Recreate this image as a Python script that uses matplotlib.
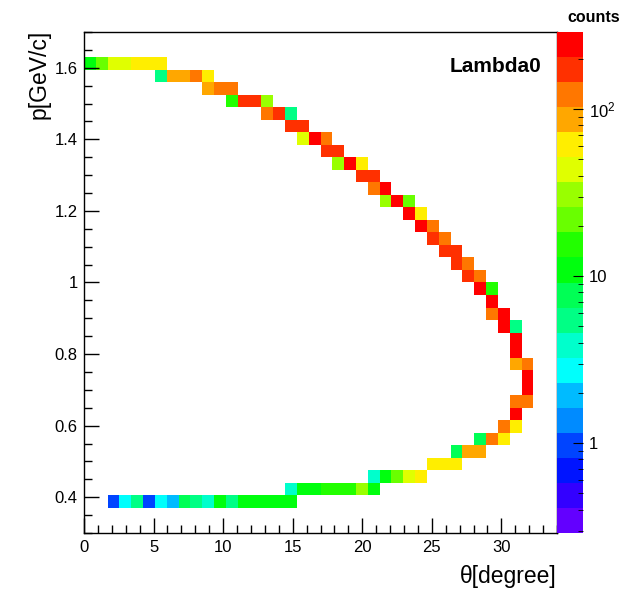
import colorsys
import numpy as np
import matplotlib
matplotlib.use("Agg")
import matplotlib.pyplot as plt
from matplotlib.colors import ListedColormap, LogNorm
from matplotlib.ticker import MultipleLocator, FuncFormatter, FixedLocator, NullFormatter

plt.rcParams['font.family'] = ['Liberation Sans', 'DejaVu Sans']
plt.rcParams['mathtext.fontset'] = 'custom'
plt.rcParams['mathtext.rm'] = 'Liberation Sans'
plt.rcParams['mathtext.default'] = 'regular'

# histogram binning (40 x 40 bins) and colour-scale range
theta_range = (0.0, 34.0)
p_range = (0.3, 1.7)
n_bins = 40
z_range = (0.29, 290.0)

# filled bins: theta [degree], p [GeV/c], counts
theta = [
    0.43, 1.28, 2.13, 2.98, 3.83, 4.68, 5.53,
    5.53, 6.38, 7.23, 8.08, 8.93,
    8.93, 9.78, 10.63,
    10.63, 11.48, 12.33, 13.18,
    13.18, 14.03, 14.88,
    14.88, 15.73,
    15.73, 16.58, 17.43,
    17.43, 18.28,
    18.28, 19.13, 19.98,
    19.98, 20.83,
    20.83, 21.68,
    21.68, 22.53, 23.38,
    23.38, 24.23,
    24.23, 25.08,
    25.08, 25.93,
    25.93, 26.78,
    26.78, 27.63,
    27.63, 28.48,
    28.48, 29.33,
    29.33,
    29.33, 30.18,
    30.18, 31.03,
    31.03,
    31.03,
    31.03, 31.88,
    31.88,
    31.88,
    31.03, 31.88,
    31.03,
    30.18, 31.03,
    28.48, 29.33, 30.18,
    26.78, 27.63, 28.48,
    25.08, 25.93, 26.78,
    20.83, 21.68, 22.53, 23.38, 24.23,
    14.88, 15.73, 16.58, 17.43, 18.28, 19.13, 19.98, 20.83,
    2.13, 2.98, 3.83, 4.68, 5.53, 6.38, 7.23, 8.08,
    8.93, 9.78, 10.63, 11.48, 12.33, 13.18, 14.03, 14.88,
]
p = [
    1.612, 1.612, 1.612, 1.612, 1.612, 1.612, 1.612,
    1.578, 1.578, 1.578, 1.578, 1.578,
    1.542, 1.542, 1.542,
    1.508, 1.508, 1.508, 1.508,
    1.472, 1.472, 1.472,
    1.438, 1.438,
    1.402, 1.402, 1.402,
    1.368, 1.368,
    1.332, 1.332, 1.332,
    1.298, 1.298,
    1.262, 1.262,
    1.228, 1.228, 1.228,
    1.192, 1.192,
    1.158, 1.158,
    1.122, 1.122,
    1.088, 1.088,
    1.052, 1.052,
    1.018, 1.018,
    0.982, 0.982,
    0.948,
    0.912, 0.912,
    0.878, 0.878,
    0.842,
    0.808,
    0.772, 0.772,
    0.738,
    0.702,
    0.668, 0.668,
    0.632,
    0.598, 0.598,
    0.562, 0.562, 0.562,
    0.528, 0.528, 0.528,
    0.492, 0.492, 0.492,
    0.458, 0.458, 0.458, 0.458, 0.458,
    0.422, 0.422, 0.422, 0.422, 0.422, 0.422, 0.422, 0.422,
    0.388, 0.388, 0.388, 0.388, 0.388, 0.388, 0.388, 0.388,
    0.388, 0.388, 0.388, 0.388, 0.388, 0.388, 0.388, 0.388,
]
counts = [
    12, 20, 45, 45, 55, 60, 60,
    6, 90, 90, 130, 60,
    90, 140, 140,
    14, 180, 180, 30,
    130, 180, 6,
    180, 180,
    50, 250, 130,
    180, 180,
    30, 250, 60,
    180, 180,
    110, 250,
    35, 250, 20,
    250, 60,
    250, 110,
    180, 110,
    180, 180,
    180, 120,
    180, 110,
    250, 14,
    250,
    120, 250,
    250, 6,
    250,
    250,
    85, 120,
    250,
    250,
    120, 120,
    250,
    120, 60,
    7, 120, 60,
    7, 85, 85,
    60, 60, 60,
    4, 12, 20, 40, 60,
    4, 11, 11, 17, 17, 17, 28, 12,
    1, 3, 5, 1, 3, 2, 7, 6,
    4, 10, 6, 11, 11, 11, 12, 12,
]

theta_edges = np.linspace(*theta_range, n_bins + 1)
p_edges = np.linspace(*p_range, n_bins + 1)
H, _, _ = np.histogram2d(theta, p, bins=[theta_edges, p_edges], weights=counts)
H = np.ma.masked_less_equal(H.T, 0)

# "pretty" rainbow palette: 50 HLS hues from violet to red, 20 contour levels
pretty = [colorsys.hls_to_rgb((280.0 - (i + 1) * 280.0 / 50) / 360.0, 0.5, 1.0)
          for i in range(50)]
n_levels = 20
cmap = ListedColormap([pretty[int((k + 0.99) * 50 / n_levels)] for k in range(n_levels)])
norm = LogNorm(*z_range)

W, Hpx = 630, 594
fig = plt.figure(figsize=(W / 100, Hpx / 100), dpi=100)
fig.patch.set_facecolor('white')
ax = fig.add_axes([84 / W, 1 - 533 / Hpx, (557 - 84) / W, (533 - 32) / Hpx])
cax = fig.add_axes([557 / W, 1 - 533 / Hpx, 26 / W, (533 - 32) / Hpx])

mesh = ax.pcolormesh(theta_edges, p_edges, H, cmap=cmap, norm=norm)
ax.set_xlim(*theta_range)
ax.set_ylim(*p_range)

ax.xaxis.set_major_locator(MultipleLocator(5))
ax.xaxis.set_minor_locator(MultipleLocator(1))
ax.yaxis.set_major_locator(MultipleLocator(0.2))
ax.yaxis.set_minor_locator(MultipleLocator(0.05))
fmt = FuncFormatter(lambda v, pos: f"{round(v, 3):g}")
ax.xaxis.set_major_formatter(fmt)
ax.yaxis.set_major_formatter(fmt)
ax.tick_params(which='both', direction='in', top=False, right=False,
               labelsize=12, width=1.0, color='black')
ax.tick_params(which='major', length=11)
ax.tick_params(which='minor', length=5.5)
ax.tick_params(axis='x', pad=5)
ax.tick_params(axis='y', pad=4.5)
for s in ax.spines.values():
    s.set_linewidth(1.0)

ax.text(0.968, 0.951, 'Lambda0', transform=ax.transAxes, ha='right', va='top',
        fontsize=15, fontweight='bold')

fig.text(39 / W, 1 - 30 / Hpx, 'p[GeV/c]', rotation=90, ha='center', va='top',
         fontsize=16.5)
fig.text(557 / W, 1 - 577 / Hpx, 'θ[degree]', ha='right', va='center',
         fontsize=16.5)

cbar = fig.colorbar(mesh, cax=cax)
cbar.outline.set_visible(False)
cax.yaxis.set_ticks_position('right')
cax.yaxis.set_major_locator(FixedLocator([1, 10, 100]))
cax.yaxis.set_major_formatter(FuncFormatter(
    lambda v, pos: {1: '1', 10: '10', 100: '10$^{2}$'}.get(int(round(v)), '')))
minor = [m * 10.0 ** e for e in (-1, 0, 1, 2) for m in range(2, 10)]
cax.yaxis.set_minor_locator(FixedLocator([v for v in minor if z_range[0] <= v <= z_range[1]]))
cax.yaxis.set_minor_formatter(NullFormatter())
cax.tick_params(which='both', direction='in', labelsize=12, pad=4, color='black')
cax.tick_params(which='major', length=7)
cax.tick_params(which='minor', length=3.5)

fig.text(594 / W, 1 - 18 / Hpx, 'counts', ha='center', va='center',
         fontsize=11.5, fontweight='bold')

fig.savefig('out.png', dpi=100)
